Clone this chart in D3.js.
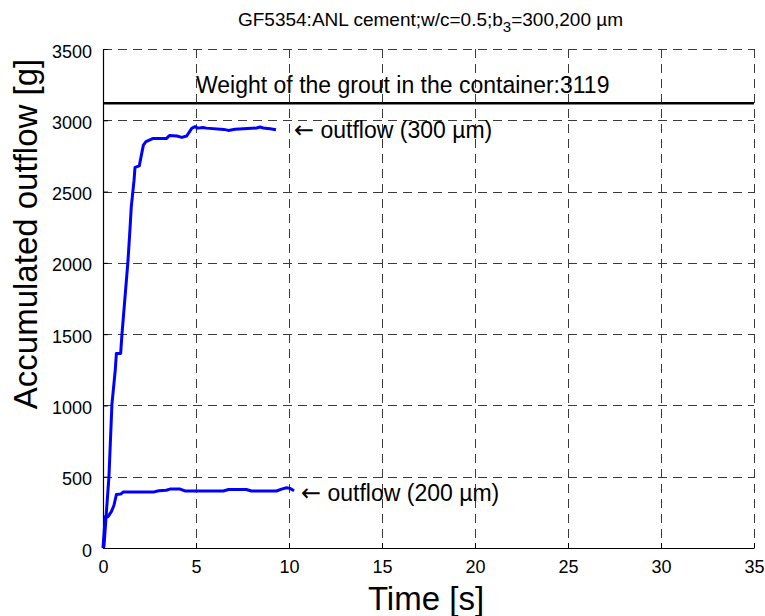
<!DOCTYPE html>
<html>
<head>
<meta charset="utf-8">
<script src="https://cdn.jsdelivr.net/npm/d3@7/dist/d3.min.js"></script>
<style>
  html, body { margin: 0; padding: 0; background: #fff; }
  svg { display: block; }
  text { font-family: "Liberation Sans", Arial, Helvetica, sans-serif; fill: #000; }
</style>
</head>
<body>
<div id="chart"></div>
<script>
// ---- data ----
const t300 = [0, 0.05, 0.32, 0.48, 0.66, 0.72, 0.95, 1.02, 1.34, 1.45, 1.52, 1.67, 1.72, 1.95, 2.17, 2.31, 2.7, 3.42, 3.57, 3.98, 4.23, 4.5, 4.77, 4.95, 5.1, 5.38, 5.55, 6.5, 6.74, 7.1, 8.26, 8.44, 8.62, 8.98, 9.3];
const v300 = [0, 10, 500, 1008, 1250, 1365, 1365, 1500, 2008, 2235, 2393, 2580, 2670, 2680, 2826, 2850, 2873, 2873, 2894, 2890, 2880, 2890, 2943, 2955, 2945, 2950, 2945, 2936, 2929, 2937, 2946, 2953, 2946, 2941, 2934];
const t200 = [0, 0.12, 0.27, 0.45, 0.59, 0.72, 0.95, 1.08, 2.7, 3.0, 3.4, 3.6, 4.15, 4.4, 6.47, 6.75, 7.7, 7.98, 9.33, 9.6, 9.87, 10.05, 10.27];
const v200 = [0, 220, 220, 255, 300, 375, 378, 392, 392, 402, 405, 413, 413, 400, 400, 410, 410, 400, 400, 413, 423, 418, 402];
const groutWeight = 3119;
const xTicks = [0, 5, 10, 15, 20, 25, 30, 35];
const yTicks = [0, 500, 1000, 1500, 2000, 2500, 3000, 3500];
const titleMain = "GF5354:ANL cement;w/c=0.5;b";
const titleSub = "3";
const titleTail = "=300,200 \u00b5m";
const xLabel = "Time [s]";
const yLabel = "Accumulated outflow [g]";
const weightLabel = "Weight of the grout in the container:" + groutWeight;
const arrowGlyph = "\u2190";
const label300 = " outflow (300 \u00b5m)";
const label200 = " outflow (200 \u00b5m)";

// ---- layout ----
const W = 765, H = 616;
const m = { left: 103, right: 11, top: 49, bottom: 68 };
const pw = W - m.left - m.right, ph = H - m.top - m.bottom;

const svg = d3.select("#chart").append("svg").attr("width", W).attr("height", H);
const g = svg.append("g").attr("transform", `translate(${m.left},${m.top})`);

const x = d3.scaleLinear().domain([0, 35]).range([0, pw]);
const y = d3.scaleLinear().domain([0, 3500]).range([ph, 0]);

// grid
const grid = g.append("g");
grid.selectAll("line.gx").data(xTicks).join("line")
  .attr("x1", d => Math.round(x(d)) + 0.5).attr("x2", d => Math.round(x(d)) + 0.5)
  .attr("y1", 0).attr("y2", ph)
  .attr("stroke", "#3a3a3a").attr("stroke-width", 1).attr("stroke-dasharray", "9,6");
grid.selectAll("line.gy").data(yTicks).join("line")
  .attr("y1", d => Math.round(y(d)) + 0.5).attr("y2", d => Math.round(y(d)) + 0.5)
  .attr("x1", 0).attr("x2", pw)
  .attr("stroke", "#3a3a3a").attr("stroke-width", 1).attr("stroke-dasharray", "9,6");

// axes
const xAxis = d3.axisBottom(x).tickValues(xTicks).tickFormat(d3.format("d")).tickSizeInner(-5).tickSizeOuter(0).tickPadding(12);
const yAxis = d3.axisLeft(y).tickValues(yTicks).tickFormat(d3.format("d")).tickSizeInner(-5).tickSizeOuter(0).tickPadding(11);

const gx = g.append("g").attr("transform", `translate(0,${ph})`).call(xAxis);
const gy = g.append("g").call(yAxis);
[gx, gy].forEach(a => {
  a.select(".domain").attr("stroke", "#000").attr("stroke-width", 1.2);
  a.selectAll(".tick line").attr("stroke", "#000");
  a.selectAll("text").attr("font-size", 18).attr("font-family", "Liberation Sans, Arial, sans-serif").attr("fill", "#000");
});
gx.selectAll(".tick text").attr("dy", "0.71em");
gy.selectAll(".tick text").attr("dy", "0.45em");

// grout weight line
g.append("line")
  .attr("x1", 0).attr("x2", pw)
  .attr("y1", y(groutWeight)).attr("y2", y(groutWeight))
  .attr("stroke", "#000").attr("stroke-width", 2.5);

// curves
const line = d3.line().x(d => x(d[0])).y(d => y(d[1]));
const d300 = t300.map((t, i) => [t, v300[i]]);
const d200 = t200.map((t, i) => [t, v200[i]]);
g.append("path").datum(d300).attr("d", line)
  .attr("fill", "none").attr("stroke", "#0000ff").attr("stroke-width", 3).attr("stroke-linejoin", "round");
g.append("path").datum(d200).attr("d", line)
  .attr("fill", "none").attr("stroke", "#0000ff").attr("stroke-width", 3).attr("stroke-linejoin", "round");

// annotations
svg.append("text").attr("x", 196).attr("y", 93).attr("font-size", 23).text(weightLabel);
function arrowLabel(px, py, txt) {
  const t = svg.append("text").attr("x", px).attr("y", py).attr("font-size", 23);
  t.append("tspan").attr("font-family", "DejaVu Sans, sans-serif").attr("font-size", 24).text(arrowGlyph);
  t.append("tspan").text(txt);
}
arrowLabel(294, 138, label300);
arrowLabel(301, 501, label200);

// title
const tt = svg.append("text").attr("x", m.left + pw / 2 + 2).attr("y", 26)
  .attr("text-anchor", "middle").attr("font-size", 19);
tt.append("tspan").text(titleMain);
tt.append("tspan").attr("dy", 6).attr("font-size", 15).text(titleSub);
tt.append("tspan").attr("dy", -6).text(titleTail);

// axis labels
svg.append("text").attr("x", 426).attr("y", 610).attr("text-anchor", "middle")
  .attr("font-size", 33).text(xLabel);
svg.append("text").attr("transform", "translate(37,234) rotate(-90)")
  .attr("text-anchor", "middle").attr("font-size", 33).text(yLabel);
</script>
</body>
</html>
